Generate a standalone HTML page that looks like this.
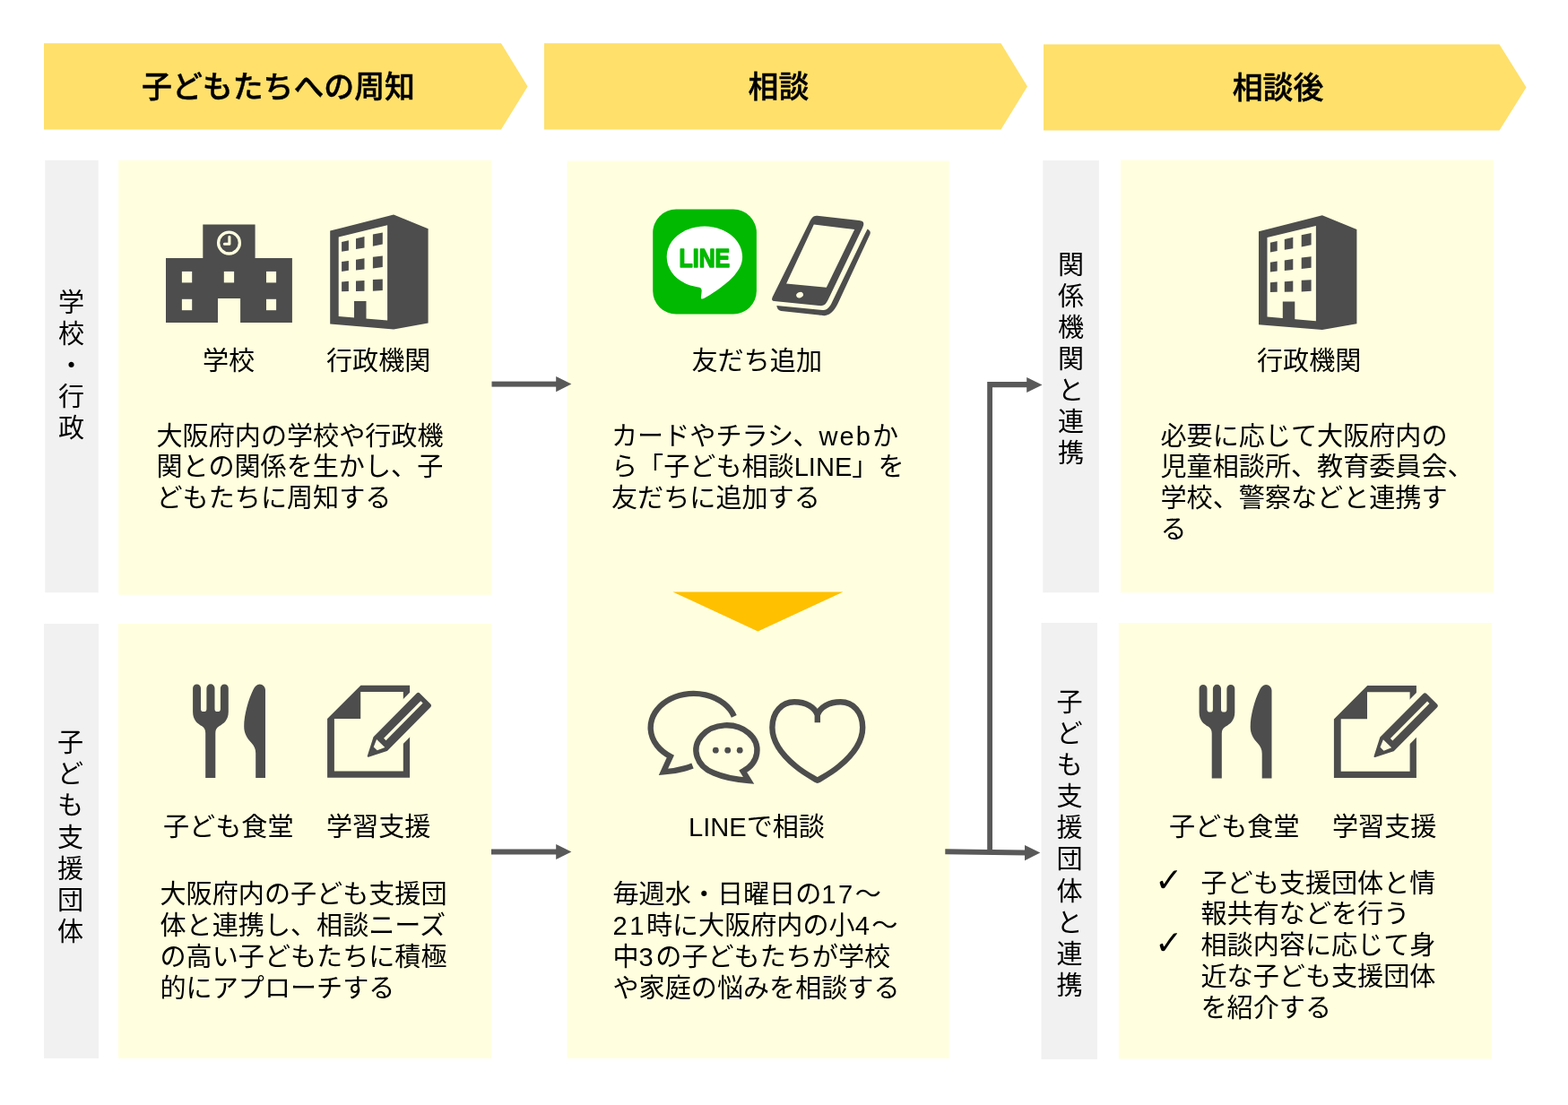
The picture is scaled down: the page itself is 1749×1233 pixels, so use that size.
<!DOCTYPE html>
<html lang="ja">
<head>
<meta charset="utf-8">
<title>子ども相談LINE</title>
<style>
html,body{margin:0;padding:0;background:#fff;}
body{width:1749px;height:1233px;position:relative;overflow:hidden;
  font-family:"Liberation Sans","Noto Sans CJK JP",sans-serif;color:#000;}
#art{position:absolute;left:0;top:0;width:1749px;height:1233px;will-change:transform;}
#txt{position:absolute;left:0;top:0;width:1749px;height:1233px;will-change:transform;}
.t{position:absolute;white-space:nowrap;font-size:29.1px;line-height:34.9px;font-weight:400;margin:0;}
.h{position:absolute;white-space:nowrap;font-size:33.9px;line-height:40px;font-weight:500;-webkit-text-stroke:0.45px #000;text-align:center;margin:0;}
.c{text-align:center;}
.v{position:absolute;width:40px;text-align:center;font-size:29.1px;line-height:35.1px;margin:0;}
.v span{display:block;}
.chk{position:absolute;font-family:"DejaVu Sans",sans-serif;font-weight:400;font-size:37.5px;line-height:40px;margin:0;}
.n{letter-spacing:2.5px;}
.w{letter-spacing:2px;}
</style>
</head>
<body>
<svg id="art" width="1749" height="1233" viewBox="0 0 1749 1233">
  <!-- header chevrons -->
  <g fill="#FEE06B">
    <polygon points="49,48.3 559,48.3 588.6,96.4 559,144.4 49,144.4"/>
    <polygon points="607,48.3 1116.5,48.3 1146,96.4 1116.5,144.4 607,144.4"/>
    <polygon points="1164,49.5 1672.5,49.5 1702.5,97.5 1672.5,145.5 1164,145.5"/>
  </g>
  <!-- side bars -->
  <g fill="#F1F1F1">
    <rect x="50.3" y="178.8" width="59.4" height="482.4"/>
    <rect x="49" y="696" width="61" height="485"/>
    <rect x="1163.3" y="179" width="62.5" height="482.2"/>
    <rect x="1161.5" y="695" width="62.5" height="487"/>
  </g>
  <!-- panels -->
  <g fill="#FFFFDF">
    <rect x="132.3" y="178.8" width="416.2" height="484.9"/>
    <rect x="132" y="696" width="416" height="485"/>
    <rect x="632.7" y="179.5" width="426" height="1001.5"/>
    <rect x="1250" y="178.5" width="415.8" height="482.8"/>
    <rect x="1247.9" y="695" width="416.1" height="486.5"/>
  </g>
  <defs>
    <!-- building (行政機関) -->
    <g id="ic-bldg">
      <polygon fill="#4D4D4D" points="368.2,257.6 439.1,239.6 477.6,255.3 477.6,360.6 439.1,367.4 368.2,361.5"/>
      <polygon fill="#FFFFDF" points="377.7,264.4 432.1,251.2 432.1,357.6 377.7,352.9"/>
      <g fill="#4D4D4D">
        <polygon points="381.1,270 388.9,268.2 388.9,279.4 381.1,280.8"/>
        <polygon points="397,266.2 406.5,264.1 406.5,276.5 397,278"/>
        <polygon points="415.9,261.5 426.8,259.4 426.8,272.6 415.9,274.7"/>
        <polygon points="381.1,292.1 388.9,290.9 388.9,301.8 381.1,302.9"/>
        <polygon points="397,289.8 406.5,288.2 406.5,300.4 397,301.4"/>
        <polygon points="415.9,286.8 426.8,285.5 426.8,298 415.9,299.4"/>
        <polygon points="381.1,314.5 388.9,313.8 388.9,325.1 381.1,325.3"/>
        <polygon points="397,313.5 406.5,312.9 406.5,324.7 397,325.1"/>
        <polygon points="415.9,312.1 426.8,311.5 426.8,324.1 415.9,324.7"/>
        <polygon points="395,335.9 408.5,335.9 408.5,357 395,356"/>
      </g>
    </g>
    <!-- fork and knife -->
    <g id="ic-food" fill="#4D4D4D">
      <path d="M215.1,767.9 a4.45,4.45 0 0 1 8.9,0 V790.9 a3.2,3.2 0 0 0 6.4,0 V767.9 a4.55,4.55 0 0 1 9.1,0 V790.9 a3.2,3.2 0 0 0 6.4,0 V767.9 a4.45,4.45 0 0 1 8.9,0 V794.3 C254.8,803.5 249.5,807.5 244.5,810.3 C241.5,812.3 240.3,814.5 240.3,818 V867.9 H229.2 V818 C229.2,814.5 228,812.3 225.3,810.3 C220.2,807.5 215.1,803.5 215.1,794.3 Z"/>
      <path d="M289.6,763.5 C293.2,763.5 296,766.5 296,770 V868 H285.2 V840.5 C285.2,835.5 283.5,832.5 280.5,829 C275,823 272.2,818 272.2,810.5 C272.2,798 277,780.5 282.5,769.5 C284.3,766 286.5,763.5 289.6,763.5 Z"/>
    </g>
    <!-- note and pencil -->
    <g id="ic-note">
      <path fill="#4D4D4D" fill-rule="evenodd" d="M365.1,802.1 L402.4,764.8 H457.1 V867.8 H365.1 Z M372.9,801.9 V860.4 H449.8 V772 H402.2 V801.9 Z"/>
      <g transform="translate(410.3,844.2) rotate(-45.3)">
        <path fill="#FFFFDF" d="M14,-17 H100 V18 H14 Z"/>
        <path fill="#4D4D4D" stroke="#4D4D4D" stroke-width="2" stroke-linejoin="round" d="M0.6,0 L20,-9.9 H88.2 Q90,-9.9 90,-8 V8 Q90,9.9 88.2,9.9 H20 Z"/>
        <polygon fill="#FFFFDF" points="12.2,-3 20.6,-6.6 20.6,6.4 12.2,2.6"/>
        <rect fill="#FFFFDF" x="27" y="-1.7" width="58.5" height="3.4"/>
      </g>
    </g>
  </defs>

  <!-- school -->
  <g>
    <path fill="#4D4D4D" d="M185,288 H226.3 V250.5 H284.6 V288 H325.9 V359.9 H268.1 V333.1 H243 V359.9 H185 Z"/>
    <g fill="#FFFFDF">
      <rect x="202.9" y="302.9" width="11.3" height="12.5"/>
      <rect x="249.8" y="302.9" width="11.3" height="12.5"/>
      <rect x="297" y="302.9" width="11.1" height="12.5"/>
      <rect x="202.9" y="333.8" width="11.3" height="12.4"/>
      <rect x="297" y="333.8" width="11.1" height="12.4"/>
    </g>
    <circle cx="255.5" cy="271.1" r="11.9" fill="none" stroke="#FFFFDF" stroke-width="3.3"/>
    <path d="M255.9,264.3 V272.2 H250.4" fill="none" stroke="#FFFFDF" stroke-width="3.1" stroke-linecap="round" stroke-linejoin="round"/>
  </g>
  <use href="#ic-bldg"/>
  <use href="#ic-bldg" x="1035.8" y="0.7"/>
  <use href="#ic-food"/>
  <use href="#ic-food" x="1122.5" y="0.5"/>
  <use href="#ic-note"/>
  <use href="#ic-note" x="1122.8" y="0.3"/>

  <!-- LINE logo -->
  <g>
    <rect x="728.2" y="233.6" width="115.7" height="116.9" rx="26" ry="26" fill="#00B900"/>
    <path fill="#FFFFFF" d="M785.9,252.6 C809.2,252.6 828.1,267.6 828.1,286.6 C828.1,294.3 825,300.8 819,307.4 C810.5,317.2 792.5,329 785.6,332.8 C782.2,334.6 781.6,333.2 782,330.4 C782.3,328.2 782.9,325.4 782.6,323.4 C782.3,321.4 780.8,320.9 779,320.5 C758.6,317.8 743.7,304 743.7,286.6 C743.7,267.6 762.6,252.6 785.9,252.6 Z"/>
    <text x="757.6" y="297.6" font-family="'Liberation Sans',sans-serif" font-weight="700" font-size="28.6" fill="#00B900" stroke="#00B900" stroke-width="1.5" stroke-linejoin="round" textLength="56.6" lengthAdjust="spacingAndGlyphs">LINE</text>
  </g>

  <!-- phone -->
  <g>
    <path fill="#4D4D4D" fill-rule="evenodd" d="M901.9,249.9 C905.2,243 907,240.3 911.7,240.8 L958.4,246 C963,246.5 964.6,248.3 962.3,253.8 L923.8,334.3 C920.8,340.3 918.8,341.7 913.4,341.1 L866,336.3 C860.8,335.7 859.8,335.2 862.5,329.8 Z M907.8,250.6 L953.2,256.1 L921.8,320.7 L877.1,316.5 Z"/>
    <ellipse cx="892.1" cy="329.1" rx="4" ry="3.1" fill="#FFFFDF" transform="rotate(-25 892.1 329.1)"/>
    <path fill="#4D4D4D" d="M967.7,255.6 C970.7,257.4 971.3,259.4 970.5,261.2 L935.4,337.1 C932.4,343.7 927.7,351.6 919.9,352.2 C917.5,352.3 915,351.8 913.4,351.6 L871.2,347 C868.2,346.6 866.6,344 866.3,341.1 L917.4,345.9 C924,346.5 926.7,340.3 929,335.3 L964.3,262 C965.3,259.9 966.6,257.8 967.7,255.6 Z"/>
  </g>

  <!-- yellow down triangle -->
  <polygon fill="#FFC000" points="750.5,660.5 940.4,660.5 845.4,704.4"/>

  <!-- chat bubbles -->
  <g fill="none" stroke="#4D4D4D" stroke-width="6.4" stroke-linejoin="miter" stroke-miterlimit="10">
    <path d="M818.8,799.4 A47.9,38.1 0 1 0 747.8,844.1 L739.9,861.4 Q757.5,860.3 772.5,854.5"/>
    <path d="M835.2,871 Q812,869.3 796.1,862.5 A34,27.9 0 1 1 828.8,860.7 Z"/>
  </g>
  <g fill="#4D4D4D">
    <circle cx="798.3" cy="837.2" r="3.4"/>
    <circle cx="811.7" cy="837.2" r="3.4"/>
    <circle cx="825.2" cy="837.2" r="3.4"/>
  </g>
  <!-- heart -->
  <path fill="none" stroke="#4D4D4D" stroke-width="6.4" stroke-linejoin="round" stroke-linecap="butt" d="M911.8,806.3 V797.8 C909.1,789.3 899.1,783.3 886.0,783.3 C872.1,783.3 861.4,794.7 861.4,811.7 C861.4,829.5 873.6,843.4 887.5,854.9 C896.8,862.7 904.5,866.5 911.8,870.8 C919.1,866.5 926.8,862.7 936.1,854.9 C950.0,843.4 962.2,829.5 962.2,811.7 C962.2,794.7 951.5,783.3 937.6,783.3 C924.5,783.3 914.5,789.3 911.8,797.8"/>

  <!-- connectors -->
  <g fill="#595959">
    <rect x="548.5" y="425.6" width="73" height="6"/>
    <polygon points="620.2,420 637.4,428.6 620.2,437.2"/>
    <rect x="548" y="947.5" width="73" height="6"/>
    <polygon points="620.2,941.9 637.4,950.5 620.2,959.1"/>
    <polygon points="1101.2,426 1146,426 1146,432.2 1107,432.2 1107,948 1144,948.6 1144,954.6 1054.3,953.3 1054.3,947.3 1101.2,948"/>
    <polygon points="1145.2,421 1162.5,429.4 1145.2,438"/>
    <polygon points="1143,943 1160.3,951.6 1143,960.2"/>
  </g>
</svg>

<div id="txt">
<div class="h" style="left:49px;top:76.5px;width:523px;">子どもたちへの周知</div>
<div class="h" style="left:607px;top:76.5px;width:523px;">相談</div>
<div class="h" style="left:1164px;top:77.5px;width:523px;">相談後</div>

<div class="v" style="left:59.5px;top:320.9px;"><span>学</span><span>校</span><span>・</span><span>行</span><span>政</span></div>
<div class="v" style="left:58.5px;top:812.3px;"><span>子</span><span>ど</span><span>も</span><span>支</span><span>援</span><span>団</span><span>体</span></div>
<div class="v" style="left:1174.5px;top:278.8px;"><span>関</span><span>係</span><span>機</span><span>関</span><span>と</span><span>連</span><span>携</span></div>
<div class="v" style="left:1173px;top:767px;"><span>子</span><span>ど</span><span>も</span><span>支</span><span>援</span><span>団</span><span>体</span><span>と</span><span>連</span><span>携</span></div>

<div class="t" style="left:226px;top:386px;">学校</div>
<div class="t" style="left:364px;top:386px;">行政機関</div>
<div class="t" style="left:174.5px;top:469.5px;">大阪府内の学校や行政機<br>関との関係を生かし、子<br>どもたちに周知する</div>

<div class="t" style="left:182px;top:905.5px;">子ども食堂</div>
<div class="t" style="left:364px;top:905.5px;">学習支援</div>
<div class="t" style="left:178.5px;top:981px;">大阪府内の子ども支援団<br>体と連携し、相談ニーズ<br>の高い子どもたちに積極<br>的にアプローチする</div>

<div class="t" style="left:771.5px;top:386px;">友だち追加</div>
<div class="t" style="left:682px;top:469.5px;">カードやチラシ、<span class="w">web</span>か<br>ら「子ども相談LINE」を<br>友だちに追加する</div>
<div class="t" style="left:768px;top:905.5px;">LINEで相談</div>
<div class="t" style="left:683.5px;top:981px;">毎週水・日曜日の<span class="n">17</span>〜<br><span class="n">21</span>時に大阪府内の小<span class="n">4</span>〜<br>中<span class="n">3</span>の子どもたちが学校<br>や家庭の悩みを相談する</div>

<div class="t" style="left:1402px;top:386px;">行政機関</div>
<div class="t" style="left:1294.5px;top:469.5px;">必要に応じて大阪府内の<br>児童相談所、教育委員会、<br>学校、警察などと連携す<br>る</div>

<div class="t" style="left:1304px;top:905.5px;">子ども食堂</div>
<div class="t" style="left:1486px;top:905.5px;">学習支援</div>
<div class="chk" style="left:1288px;top:961.5px;">✓</div>
<div class="chk" style="left:1288px;top:1032px;">✓</div>
<div class="t" style="left:1339.5px;top:968.5px;">子ども支援団体と情<br>報共有などを行う<br>相談内容に応じて身<br>近な子ども支援団体<br>を紹介する</div>
</div>
</body>
</html>
